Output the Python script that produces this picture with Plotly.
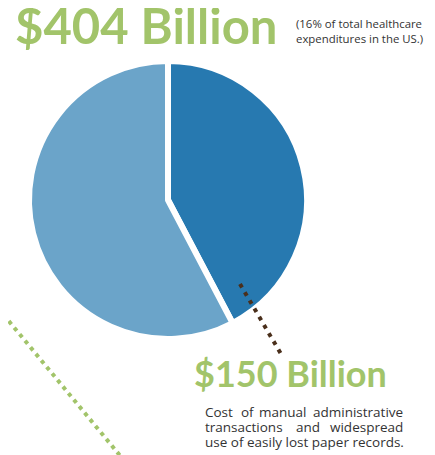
import plotly.graph_objects as go

# ---- data ----
slice_labels = ["Manual administrative transactions & paper records", "Other healthcare expenditures"]
slice_share = [42.3, 57.7]          # share of the pie as drawn
slice_colors = ["#2779b0", "#6ba4c9"]

total_label = "$404 Billion"
total_note = "(16% of total healthcare<br>expenditures in the US.)"
part_label = "$150 Billion"
part_note_lines = [
    ["Cost", "of", "manual", "administrative"],
    ["transactions", "and", "widespread"],
    ["use of easily lost paper records."],
]

# page has an 8px body margin; figure sized to fill the remaining window
OFF = 8
W, H = 435 - OFF, 455 - OFF
GREEN = "#a2c46a"
BROWN = "#4a2f1b"
TEXT = "#333333"


def px(x):
    return (x - OFF) / W


def py(y):
    return 1 - (y - OFF) / H


fig = go.Figure()
fig.add_trace(go.Pie(
    labels=slice_labels,
    values=slice_share,
    sort=False,
    direction="clockwise",
    rotation=0,
    marker=dict(colors=slice_colors, line=dict(color="white", width=6)),
    textinfo="none",
    hoverinfo="label+percent",
    showlegend=False,
    domain=dict(x=[px(29), px(307)], y=[py(339), py(61)]),
))

shapes = [
    # green dotted diagonal
    dict(type="line", xref="paper", yref="paper",
         x0=px(-2), y0=py(308), x1=px(122), y1=py(458),
         line=dict(color=GREEN, width=4, dash="4px,4.5px")),
    # brown dotted leader
    dict(type="line", xref="paper", yref="paper",
         x0=px(240), y0=py(284), x1=px(281), y1=py(354),
         line=dict(color=BROWN, width=4, dash="4px,5.5px")),
]

ann = []
ann.append(dict(text="<b>" + total_label + "</b>", x=px(13), y=py(-6), xref="paper", yref="paper",
                xanchor="left", yanchor="top", showarrow=False,
                font=dict(family="Lato", size=49, color=GREEN)))
ann.append(dict(text=total_note, x=px(294), y=py(14), xref="paper", yref="paper",
                xanchor="left", yanchor="top", align="left", showarrow=False,
                font=dict(family="Open Sans", size=11.4, color=TEXT)))
ann.append(dict(text="<b>" + part_label + "</b>", x=px(192), y=py(349), xref="paper", yref="paper",
                xanchor="left", yanchor="top", showarrow=False,
                font=dict(family="Lato", size=36, color=GREEN)))

# justified paragraph: word anchor positions (px) per line
line_y = [412, 427, 442]
word_x = [
    [(203, "left"), (248, "center"), (282, "center"), (405, "right")],
    [(203, "left"), (307.5, "center"), (405, "right")],
    [(203, "left")],
]
for words, xs, yy in zip(part_note_lines, word_x, line_y):
    for w, (xx, anc) in zip(words, xs):
        ann.append(dict(text=w, x=px(xx), y=py(yy), xref="paper", yref="paper",
                        xanchor=anc, yanchor="middle", showarrow=False,
                        font=dict(family="Open Sans", size=13.5, color=TEXT)))

fig.update_layout(
    width=W, height=H,
    margin=dict(l=0, r=0, t=0, b=0),
    paper_bgcolor="white", plot_bgcolor="white",
    shapes=shapes, annotations=ann,
)

fig.write_html("out.html")
